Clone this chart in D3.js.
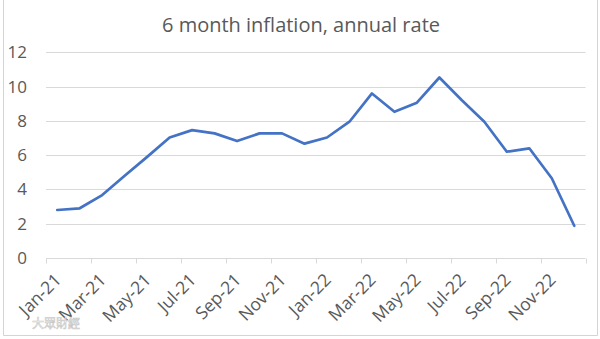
<!DOCTYPE html>
<html><head><meta charset="utf-8">
<script src="https://cdn.jsdelivr.net/npm/d3@7"></script>
<style>body{margin:0;background:#fff}svg{display:block}</style>
</head><body>
<script>
const months = ["Jan-21","Feb-21","Mar-21","Apr-21","May-21","Jun-21","Jul-21","Aug-21","Sep-21","Oct-21","Nov-21","Dec-21",
                "Jan-22","Feb-22","Mar-22","Apr-22","May-22","Jun-22","Jul-22","Aug-22","Sep-22","Oct-22","Nov-22","Dec-22"];
const values = [2.8,2.9,3.67,4.8,5.9,7.03,7.46,7.27,6.82,7.27,7.27,6.67,
                7.03,7.95,9.6,8.53,9.06,10.53,9.2,7.95,6.2,6.4,4.65,1.88];
const yTicks = [0,2,4,6,8,10,12];
const title = "6 month inflation, annual rate";

const W = 600, H = 339;
const svg = d3.select("body").append("svg").attr("width", W).attr("height", H);

// frame
svg.append("path").attr("d", "M3.5,0 V335.5 H597.5 V0").attr("fill","none").attr("stroke","#d4d4d4").attr("stroke-width",1);

const x = d3.scaleBand().domain(months).range([46, 585.5]).padding(0);
const y = d3.scaleLinear().domain([0, 12]).range([258, 52.3]);

// gridlines
svg.append("g").selectAll("line").data(yTicks.filter(d => d > 0)).join("line")
  .attr("x1", 46).attr("x2", 585.5)
  .attr("y1", d => Math.round(y(d)) + 0.5).attr("y2", d => Math.round(y(d)) + 0.5)
  .attr("stroke", "#d9d9d9").attr("stroke-width", 1);

// y labels
svg.append("g").selectAll("text").data(yTicks).join("text")
  .attr("x", 27).attr("y", d => y(d)).attr("dy", "0.35em")
  .attr("text-anchor", "end")
  .attr("font-family", "Open Sans, sans-serif").attr("font-size", 17)
  .attr("fill", "#595959").text(d => d);

// x axis line + ticks
const gx = svg.append("g").attr("transform", `translate(0,${Math.round(y(0)) + 0.5})`);
gx.append("line").attr("x1", 46).attr("x2", 585.5).attr("stroke", "#d9d9d9");
const tickPos = d3.range(0, months.length + 1, 2).map(i => 46 + i * x.bandwidth());
gx.selectAll("line.t").data(tickPos).join("line").attr("class","t")
  .attr("x1", d => Math.round(d) + 0.5).attr("x2", d => Math.round(d) + 0.5)
  .attr("y1", 0).attr("y2", 5).attr("stroke", "#d9d9d9");

// x labels
svg.append("g").selectAll("text").data(months.filter((d, i) => i % 2 === 0)).join("text")
  .attr("transform", d => `translate(${x(d) + x.bandwidth() / 2 + 5},${281}) rotate(-45)`)
  .attr("text-anchor", "end")
  .attr("font-family", "Open Sans, sans-serif").attr("font-size", 17.5)
  .attr("fill", "#595959").text(d => d);

// line
const line = d3.line().x((d, i) => x(months[i]) + x.bandwidth() / 2).y(d => y(d));
svg.append("path").datum(values).attr("d", line)
  .attr("fill", "none").attr("stroke", "#4472C4").attr("stroke-width", 2.7)
  .attr("stroke-linejoin", "round").attr("stroke-linecap", "round");

// title
svg.append("text").attr("x", 301).attr("y", 32).attr("text-anchor", "middle")
  .attr("font-family", "Open Sans, sans-serif").attr("font-size", 20)
  .attr("fill", "#595959").text(title);

// watermark
svg.append("text").attr("x", 32).attr("y", 328)
  .attr("font-family", "Noto Sans CJK TC, sans-serif").attr("font-size", 12)
  .attr("fill", "#fff").attr("stroke", "#c8c8c8").attr("stroke-width", 0.6)
  .text("大眾財經");
</script>
</body></html>
